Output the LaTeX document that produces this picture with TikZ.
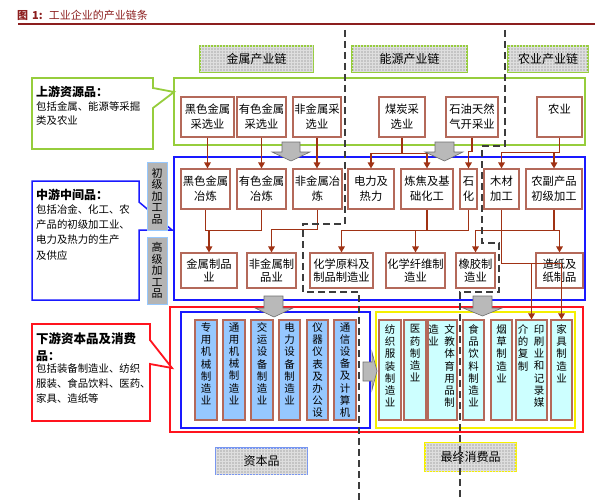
\documentclass[tikz,border=0pt]{standalone}
\usepackage{fontspec}
\setmainfont{Noto Sans CJK SC}
\usetikzlibrary{arrows.meta,calc,patterns}
\definecolor{titc}{RGB}{140,30,30}
\definecolor{boxc}{RGB}{180,105,90}
\definecolor{arrc}{RGB}{160,50,20}
\definecolor{grn}{RGB}{150,205,60}
\definecolor{blu}{RGB}{25,25,255}
\definecolor{rd}{RGB}{255,20,30}
\definecolor{yel}{RGB}{245,240,0}
\definecolor{capf}{RGB}{150,200,255}
\definecolor{conf}{RGB}{205,255,255}
\definecolor{hdrf}{RGB}{196,196,196}
\definecolor{hdrg}{RGB}{222,222,222}
\definecolor{lblf}{RGB}{180,180,180}
\definecolor{lbld}{RGB}{150,200,255}
\definecolor{blkf}{RGB}{185,185,185}
\definecolor{blkd}{RGB}{110,110,110}
\definecolor{dashc}{RGB}{60,60,60}
\definecolor{rbb}{RGB}{120,150,240}
\begin{document}
\begin{tikzpicture}[x=1pt,y=-1pt,
 bx/.style={draw=boxc,line width=1.1pt,fill=white,inner sep=0pt,align=center,font=\fontsize{11.3}{15}\selectfont},
 bxs/.style={bx,font=\fontsize{11.3}{13.5}\selectfont},
 capb/.style={draw=boxc,line width=1.1pt,fill=capf,inner sep=0pt,minimum height=100pt},
 conb/.style={draw=boxc,line width=1.1pt,fill=conf,inner sep=0pt,minimum height=100pt},
 vt/.style={inner sep=0pt,align=center,anchor=north,font=\fontsize{10.5}{12.2}\selectfont},
 arr/.style={draw=arrc,line width=1.4pt,-{Triangle[length=6pt,width=6.5pt]}},
 ln/.style={draw=arrc,line width=1.4pt},
 dsh/.style={draw=dashc,line width=1.4pt,dash pattern=on 7pt off 4pt},
 blk/.style={fill=blkf,draw=blkd,line width=0.6pt},
 hdr/.style={fill=hdrf,postaction={pattern=grid,pattern color=hdrg},inner sep=0pt,font=\fontsize{12}{14}\selectfont,line width=1.2pt},
 lbl/.style={fill=lblf,draw=lbld,line width=1pt,inner sep=0pt,minimum width=20pt,align=center,font=\fontsize{11}{11.5}\selectfont},
 txt/.style={inner sep=0pt,anchor=north west,align=left,font=\fontsize{10.4}{15}\selectfont},
 hd/.style={inner sep=0pt,anchor=west,font=\bfseries\fontsize{12}{15}\selectfont}
]
\useasboundingbox (0,0) rectangle (601,500);
% title
\node[inner sep=0pt,anchor=west,text=titc,font=\fontsize{11}{13}\selectfont] (title) at (17,15) {\textbf{图\hspace{4pt}1:}\hspace{6pt}工业企业的产业链条};
\draw[titc,line width=1.5pt] (18,24) -- (595,24);

% containers
\draw[grn,line width=1.8pt] (174,78) rectangle (585,145);
\draw[blu,line width=1.5pt] (174,157) rectangle (585,300);
\draw[rd,line width=1.8pt] (170,307) rectangle (583,432);
\draw[blu,line width=1.5pt] (181,312) rectangle (370,428);
\draw[yel,line width=1.8pt] (376,312) rectangle (575,428);

% callouts
\draw[grn,line width=1.8pt,fill=white] (32,78) -- (153,78) -- (153,88) -- (174,92) -- (153,108) -- (153,149) -- (32,149) -- cycle;
\node[hd] (gh) at (36,92) {上游资源品：};
\node[txt,font=\fontsize{10.4}{14}\selectfont] (gt) at (36,101) {包括金属、能源等采掘\\类及农业};

\draw[blu,line width=1.5pt,fill=white] (32,181) -- (139,181) -- (139,202) -- (172,230) -- (139,230) -- (139,300) -- (32,300) -- cycle;
\node[hd] (bh) at (36,195) {中游中间品：};
\node[txt,font=\fontsize{10.4}{15.4}\selectfont] (bt) at (36,204) {包括冶金、化工、农\\产品的初级加工业、\\电力及热力的生产\\及供应};

\draw[rd,line width=1.8pt,fill=white] (32,324) -- (150,324) -- (150,340) -- (172,368) -- (150,364) -- (150,421) -- (32,421) -- cycle;
\node[hd,font=\bfseries\fontsize{12.5}{15}\selectfont] (rh1) at (36,339) {下游资本品及消费};
\node[hd] (rh2) at (36,356) {品：};
\node[txt,font=\fontsize{10.4}{15}\selectfont] (rt) at (36,364) {包括装备制造业、纺织\\服装、食品饮料、医药、\\家具、造纸等};

% side labels
\node[lbl,minimum height=68pt] (l1) at (157,196) {初\\级\\加\\工\\品};
\node[lbl,minimum height=67pt] (l2) at (157,270.5) {高\\级\\加\\工\\品};

% headers
\node[hdr,draw=grn,minimum width=113pt,minimum height=26pt] (h1) at (256.5,59) {金属产业链};
\node[hdr,draw=grn,minimum width=115pt,minimum height=26pt] (h2) at (409.5,59) {能源产业链};
\node[hdr,draw=grn,minimum width=80pt,minimum height=26pt] (h3) at (548,59) {农业产业链};
\node[hdr,draw=rbb,minimum width=91pt,minimum height=26pt] (f1) at (261.5,461) {资本品};
\node[hdr,draw=yel,minimum width=91pt,minimum height=28pt] (f2) at (470.5,457) {最终消费品};

% upstream
\node[bx,minimum width=53pt,minimum height=40pt] (u1) at (207.5,117) {黑色金属\\采选业};
\node[bx,minimum width=49pt,minimum height=40pt] (u2) at (261.5,117) {有色金属\\采选业};
\node[bx,minimum width=48pt,minimum height=40pt] (u3) at (317,117) {非金属采\\选业};
\node[bx,minimum width=46pt,minimum height=40pt] (u4) at (402,117) {煤炭采\\选业};
\node[bx,minimum width=52pt,minimum height=40pt] (u5) at (472,117) {石油天然\\气开采业};
\node[bx,minimum width=45pt,minimum height=40pt] (u6) at (559.5,117) {农业\\\phantom{农业}};

% midstream row 1
\node[bx,minimum width=49pt,minimum height=40pt] (m1) at (205.5,189) {黑色金属\\冶炼};
\node[bx,minimum width=49pt,minimum height=40pt] (m2) at (261.5,189) {有色金属\\冶炼};
\node[bx,minimum width=49pt,minimum height=40pt] (m3) at (317.5,189) {非金属冶\\炼};
\node[bx,minimum width=46pt,minimum height=40pt] (m4) at (371,189) {电力及\\热力};
\node[bx,minimum width=52pt,minimum height=40pt] (m5) at (427,189) {炼焦及基\\础化工};
\node[bx,minimum width=17pt,minimum height=40pt] (m6) at (468.5,189) {石\\化};
\node[bx,minimum width=35pt,minimum height=40pt] (m7) at (501.5,189) {木材\\加工};
\node[bx,minimum width=56pt,minimum height=40pt] (m8) at (554,189) {农副产品\\初级加工};

% midstream row 2
\node[bxs,minimum width=56pt,minimum height=35pt] (n1) at (209,270.5) {金属制品\\业};
\node[bxs,minimum width=49pt,minimum height=35pt] (n2) at (271.5,270.5) {非金属制\\品业};
\node[bxs,minimum width=63pt,minimum height=35pt] (n3) at (341.5,270.5) {化学原料及\\制品制造业};
\node[bxs,minimum width=59pt,minimum height=35pt] (n4) at (415.5,270.5) {化学纤维制\\造业};
\node[bxs,minimum width=39pt,minimum height=35pt] (n5) at (475.5,270.5) {橡胶制\\造业};
\node[bxs,minimum width=47pt,minimum height=35pt] (n6) at (559.5,270.5) {造纸及\\纸制品};

% capital goods
\node[capb,minimum width=22pt] (k1) at (206,370) {};
\node[capb,minimum width=22pt] (k2) at (234,370) {};
\node[capb,minimum width=22pt] (k3) at (262,370) {};
\node[capb,minimum width=21pt] (k4) at (289.5,370) {};
\node[capb,minimum width=21pt] (k5) at (317.5,370) {};
\node[capb,minimum width=22pt] (k6) at (345,370) {};
\node[vt] (kt1) at ($(k1.north)+(0,3)$) {专\\用\\机\\械\\制\\造\\业};
\node[vt] (kt2) at ($(k2.north)+(0,3)$) {通\\用\\机\\械\\制\\造\\业};
\node[vt] (kt3) at ($(k3.north)+(0,3)$) {交\\运\\设\\备\\制\\造\\业};
\node[vt] (kt4) at ($(k4.north)+(0,3)$) {电\\力\\设\\备\\制\\造\\业};
\node[vt] (kt5) at ($(k5.north)+(0,3)$) {仪\\器\\仪\\表\\及\\办\\公\\设};
\node[vt] (kt6) at ($(k6.north)+(0,3)$) {通\\信\\设\\备\\及\\计\\算\\机};

% consumer goods
\node[conb,minimum width=22pt] (c1) at (390,370) {};
\node[conb,minimum width=22pt] (c2) at (415,370) {};
\node[conb,minimum width=29pt] (c3) at (442.5,370) {};
\node[conb,minimum width=21pt] (c4) at (473.5,370) {};
\node[conb,minimum width=21pt] (c5) at (501.5,370) {};
\node[conb,minimum width=31pt] (c6) at (531.5,370) {};
\node[conb,minimum width=21pt] (c7) at (561.5,370) {};
\node[vt] (ct1) at ($(c1.north)+(0,5)$) {纺\\织\\服\\装\\制\\造\\业};
\node[vt] (ct2) at ($(c2.north)+(0,5)$) {医\\药\\制\\造\\业};
\node[vt] (ct3a) at ($(c3.north)+(7,5)$) {文\\教\\体\\育\\用\\品\\制};
\node[vt] (ct3b) at ($(c3.north)+(-9,5)$) {造\\业};
\node[vt] (ct4) at ($(c4.north)+(0,5)$) {食\\品\\饮\\料\\制\\造\\业};
\node[vt] (ct5) at ($(c5.north)+(0,5)$) {烟\\草\\制\\造\\业};
\node[vt] (ct6a) at ($(c6.north)+(7.5,5)$) {印\\刷\\业\\和\\记\\录\\媒};
\node[vt] (ct6b) at ($(c6.north)+(-8.5,5)$) {介\\的\\复\\制};
\node[vt] (ct7) at ($(c7.north)+(0,5)$) {家\\具\\制\\造\\业};

% connectors upstream -> midstream
\draw[arr] (u1.south) -- (u1.south |- m1.north);
\draw[arr] (u2.south) -- (m2.north);
\draw[arr] (u3.south) -- (u3.south |- m3.north);
\draw[ln] (u4.south) -- ++(0,16) coordinate (j4);
\draw[arr] (j4) -| (m4.north);
\draw[arr] (j4) -| (m5.north);
\draw[arr] (u5.south) -- ++(0,14) -| (m6.north);
\draw[ln] (u6.south) -- ++(0,15) coordinate (j6);
\draw[arr] (j6) -| (m7.north);
\draw[arr] (j6) -| (m8.north);

% midstream row1 -> row2
\draw[ln] (m1.south) -- ++(0,21) coordinate (j1) -- (j1 -| m2.south) -- (m2.south);
\draw[arr] (j1 -| n1.north) -- (n1.north);
\draw[arr] (m3.south) -- ++(0,20) -| (n2.north);
\draw[ln] (m5.south) -- ++(0,21) coordinate (j5);
\draw[ln] (m6.south) |- (j5);
\draw[arr] (j5) -| (n3.north);
\draw[arr] (j5 -| n4.north) -- (n4.north);
\draw[ln] (m8.south) -- ++(0,21) coordinate (j8);
\draw[arr] (j8) -| (n5.north);
\draw[arr] (j8) -| (n6.north);
\draw[ln] (m7.south) -- ++(0,54) coordinate (j7);
\draw[arr] (j7) -| (c6.north);
\draw[arr] (j7) -| (c7.north);

% block arrows
\draw[blk] (282,142) -- (300,142) -- (300,152) -- (310,152) -- (291,161) -- (272,152) -- (282,152) -- cycle;
\draw[blk] (435,142) -- (454,142) -- (454,152) -- (463,152) -- (444.5,161) -- (425,152) -- (435,152) -- cycle;
\draw[blk] (264,296) -- (283,296) -- (283,308) -- (293,308) -- (274,317) -- (255,308) -- (264,308) -- cycle;
\draw[blk] (473,296) -- (492,296) -- (492,308) -- (502,308) -- (482.5,316) -- (463,308) -- (473,308) -- cycle;
\draw[blk] (363,362) -- (372,362) -- (372,352) -- (377,371) -- (372,390) -- (372,381) -- (363,381) -- cycle;

% dashed chain separators
\draw[dsh] (345,30) -- (345,224) -- (303,224) -- (303,292) -- (359,292) -- (359,500);
\draw[dsh] (505,30) -- (505,146) -- (482,146) -- (482,243) -- (499,243) -- (499,292) -- (460,292) -- (460,500);
\end{tikzpicture}
\end{document}
